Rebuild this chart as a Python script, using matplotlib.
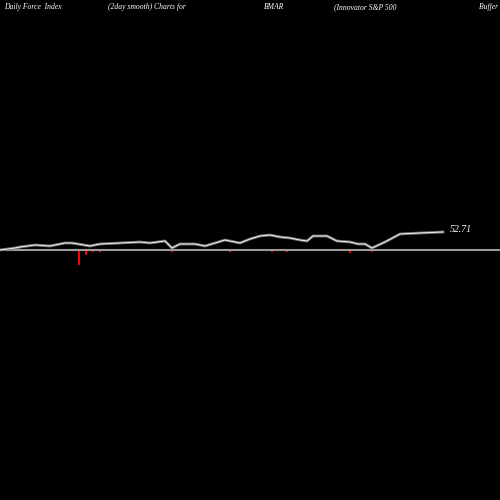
import matplotlib
matplotlib.use('Agg')
import matplotlib.pyplot as plt

# force index smoothed line (chart units; baseline = 0)
line_x = [0, 15, 20, 35, 50, 65, 72, 90, 100, 120, 140, 150, 165, 172, 180, 195, 205, 215,
          225, 230, 240, 250, 260, 270, 280, 290, 300, 307, 313, 327, 337, 350, 358, 365,
          372, 385, 400, 420, 443]
line_y = [0, 2, 3, 5, 4, 7, 7, 4, 6, 7, 8, 7, 9, 2, 6, 6, 4, 7, 10, 9, 7, 11, 14, 15, 13,
          12, 10, 9, 14, 14, 9, 8, 6, 6, 2, 8, 16, 17, 18]

# daily force bars
bar_x = [79, 86, 93, 100, 172, 230, 272, 287, 350, 372]
bar_y = [-15, -5, -2, -1.5, -1.5, -1.5, -1.5, -1.5, -3, -1.5]
green_x = list(range(20, 445, 7))

fig = plt.figure(figsize=(5, 5), dpi=100, facecolor='black')
ax = fig.add_axes([0, 0, 1, 1], facecolor='black')
ax.set_xlim(0, 500)
ax.set_ylim(-250, 250)
ax.axis('off')

ax.axhline(0, color='#999999', lw=1.5)
ax.plot(line_x, line_y, color='#777777', lw=2)
ax.plot(line_x, line_y, color='white', lw=0.6)
ax.bar(green_x, [1] * len(green_x), width=2, color='#00cc00', bottom=-0.5)
ax.bar(bar_x, bar_y, width=2, color='red')
ax.text(450, 20, '52.71', color='white', fontsize=7, style='italic', family='Liberation Serif', va='center')

y_t = 243
for x, s in [(4, 'Daily Force  Index'), (108, '(2day smooth) Charts for'), (264, 'BMAR'),
             (334, '(Innovator S&P 500'), (479, 'Buffer E')]:
    ax.text(x, y_t, s, color='white', fontsize=5.5, style='italic', family='Liberation Serif', va='center')

fig.savefig('out.png', facecolor='black')
